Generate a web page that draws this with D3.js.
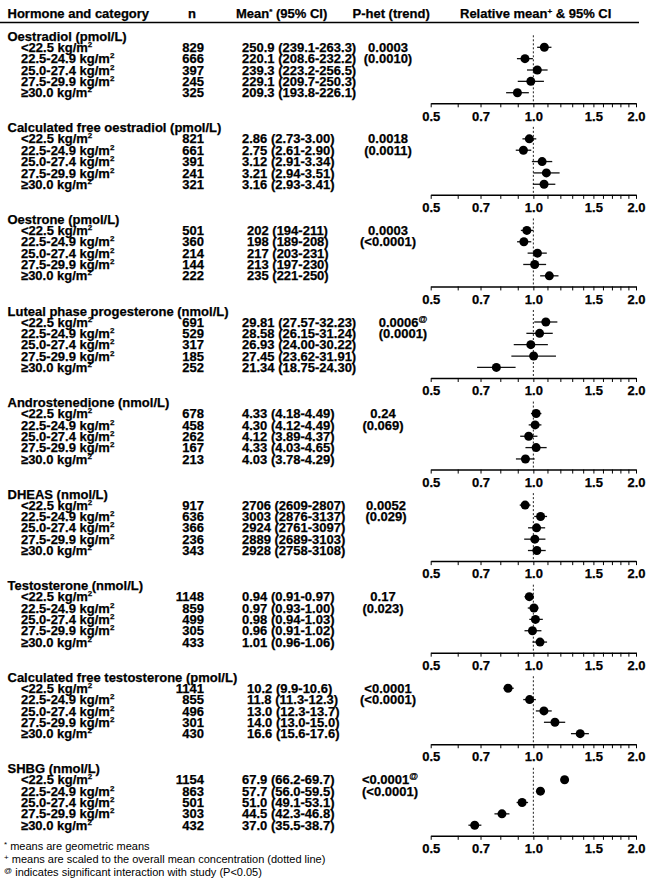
<!DOCTYPE html>
<html>
<head>
<meta charset="utf-8">
<script src="https://cdn.jsdelivr.net/npm/d3@7.9.0/dist/d3.min.js"></script>
<style>
  html, body { margin: 0; padding: 0; background: #fff; }
  svg { display: block; font-family: "Liberation Sans", Arial, sans-serif; }
  .b { font-weight: bold; font-size: 13px; fill: #000; stroke: #000; stroke-width: 0.25px; }
  .foot { font-size: 11px; fill: #000; }
</style>
</head>
<body>
<div id="chart"></div>
<script>
// table data
const hormones = [
  'Oestradiol (pmol/L)',
  'Calculated free oestradiol (pmol/L)',
  'Oestrone (pmol/L)',
  'Luteal phase progesterone (nmol/L)',
  'Androstenedione (nmol/L)',
  'DHEAS (nmol/L)',
  'Testosterone (nmol/L)',
  'Calculated free testosterone (pmol/L)',
  'SHBG (nmol/L)'
];
const categories = ['<22.5 kg/m', '22.5-24.9 kg/m', '25.0-27.4 kg/m', '27.5-29.9 kg/m', '\u226530.0 kg/m'];

const nValues = [
  [829, 666, 397, 245, 325],
  [821, 661, 391, 241, 321],
  [501, 360, 214, 144, 222],
  [691, 529, 317, 185, 252],
  [678, 458, 262, 167, 213],
  [917, 636, 366, 236, 343],
  [1148, 859, 499, 305, 433],
  [1141, 855, 496, 301, 430],
  [1154, 863, 501, 303, 432]
];
const meanLabels = [
  ['250.9 (239.1-263.3)', '220.1 (208.6-232.2)', '239.3 (223.2-256.5)', '229.1 (209.7-250.3)', '209.3 (193.8-226.1)'],
  ['2.86 (2.73-3.00)', '2.75 (2.61-2.90)', '3.12 (2.91-3.34)', '3.21 (2.94-3.51)', '3.16 (2.93-3.41)'],
  ['202 (194-211)', '198 (189-208)', '217 (203-231)', '213 (197-230)', '235 (221-250)'],
  ['29.81 (27.57-32.23)', '28.58 (26.15-31.24)', '26.93 (24.00-30.22)', '27.45 (23.62-31.91)', '21.34 (18.75-24.30)'],
  ['4.33 (4.18-4.49)', '4.30 (4.12-4.49)', '4.12 (3.89-4.37)', '4.33 (4.03-4.65)', '4.03 (3.78-4.29)'],
  ['2706 (2609-2807)', '3003 (2876-3137)', '2924 (2761-3097)', '2889 (2689-3103)', '2928 (2758-3108)'],
  ['0.94 (0.91-0.97)', '0.97 (0.93-1.00)', '0.98 (0.94-1.03)', '0.96 (0.91-1.02)', '1.01 (0.96-1.06)'],
  ['10.2 (9.9-10.6)', '11.8 (11.3-12.3)', '13.0 (12.3-13.7)', '14.0 (13.0-15.0)', '16.6 (15.6-17.6)'],
  ['67.9 (66.2-69.7)', '57.7 (56.0-59.5)', '51.0 (49.1-53.1)', '44.5 (42.3-46.8)', '37.0 (35.5-38.7)']
];
const pHet = ['0.0003', '0.0018', '0.0003', '0.0006', '0.24', '0.0052', '0.17', '<0.0001', '<0.0001'];
const pTrend = ['(0.0010)', '(0.0011)', '(<0.0001)', '(0.0001)', '(0.069)', '(0.029)', '(0.023)', '(<0.0001)', '(<0.0001)'];
const interaction = [false, false, false, true, false, false, false, false, true];

// relative means and 95% CI
const relMean = [
  [1.077, 0.945, 1.027, 0.983, 0.898],
  [0.973, 0.935, 1.061, 1.092, 1.075],
  [0.957, 0.938, 1.028, 1.009, 1.114],
  [1.088, 1.043, 0.983, 1.002, 0.779],
  [1.019, 1.012, 0.969, 1.019, 0.948],
  [0.946, 1.050, 1.022, 1.010, 1.024],
  [0.973, 1.004, 1.014, 0.994, 1.046],
  [0.843, 0.975, 1.074, 1.157, 1.372],
  [1.235, 1.049, 0.927, 0.809, 0.673]
];
const relLo = [
  [1.026, 0.895, 0.958, 0.900, 0.832],
  [0.929, 0.888, 0.990, 1.000, 0.997],
  [0.919, 0.896, 0.962, 0.934, 1.047],
  [1.006, 0.954, 0.876, 0.862, 0.684],
  [0.984, 0.969, 0.915, 0.948, 0.889],
  [0.912, 1.006, 0.965, 0.940, 0.964],
  [0.942, 0.963, 0.973, 0.942, 0.994],
  [0.818, 0.934, 1.017, 1.074, 1.289],
  [1.204, 1.018, 0.893, 0.769, 0.645]
];
const relHi = [
  [1.130, 0.997, 1.101, 1.074, 0.970],
  [1.020, 0.986, 1.136, 1.194, 1.160],
  [1.000, 0.986, 1.095, 1.090, 1.185],
  [1.176, 1.140, 1.103, 1.165, 0.887],
  [1.056, 1.056, 1.028, 1.094, 1.009],
  [0.981, 1.097, 1.083, 1.085, 1.087],
  [1.004, 1.035, 1.066, 1.056, 1.097],
  [0.876, 1.017, 1.132, 1.240, 1.455],
  [1.267, 1.082, 0.965, 0.851, 0.704]
];

const tickValues = [0.5, 0.6, 0.7, 0.8, 0.9, 1.0, 1.1, 1.2, 1.3, 1.4, 1.5, 1.6, 1.7, 1.8, 1.9, 2.0];
const tickLabels = [0.5, 0.7, 1.0, 1.5, 2.0];

const width = 651;
const height = 886;

const svg = d3.select('#chart')
  .append('svg')
  .attr('width', width)
  .attr('height', height);

const x = d3.scaleLog().domain([0.5, 2.0]).range([430.7, 636]);

// axis baseline of each panel
const panelY = d3.scaleLinear().domain([0, 8]).range([103.3, 835.8]);
// rows within a panel, relative to the axis
const rowY = d3.scaleLinear().domain([0, 4]).range([-56, -10.6]);

const colName = 7.5, colCat = 21, colN = 204, colMean = 242, colP = 388;
// small per-panel horizontal nudges of the columns, as laid out in the original
const pNudge = [0, 0, 0, 15, -5, -2, -5, 0, 2];
const meanNudge = [0, 0, 5, 0, 0, 0, 0, 5, 0];

// header
const header = svg.append('g');
header.append('text').attr('class', 'b').attr('x', colName).attr('y', 17.5).text('Hormone and category');
header.append('text').attr('class', 'b').attr('x', 188).attr('y', 17.5).text('n');
const hm = header.append('text').attr('class', 'b').attr('x', 236).attr('y', 17.5);
hm.append('tspan').text('Mean');
hm.append('tspan').attr('font-size', 8).attr('dy', -4).text('*');
hm.append('tspan').attr('dy', 4).text(' (95% CI)');
header.append('text').attr('class', 'b').attr('x', 352.5).attr('y', 17.5).text('P-het (trend)');
const hr = header.append('text').attr('class', 'b').attr('x', 460).attr('y', 17.5);
hr.append('tspan').text('Relative mean');
hr.append('tspan').attr('font-size', 8).attr('dy', -4).text('+');
hr.append('tspan').attr('dy', 4).text(' & 95% CI');

svg.append('line')
  .attr('x1', 0).attr('x2', 639)
  .attr('y1', 22.5).attr('y2', 22.5)
  .attr('stroke', '#000').attr('stroke-width', 1.5);

hormones.forEach((name, i) => {
  const y0 = panelY(i);
  const g = svg.append('g').attr('class', 'panel');

  // title
  g.append('text').attr('class', 'b')
    .attr('x', colName).attr('y', y0 - 67 + 4.6)
    .text(name);

  const rows = categories.map((c, j) => ({
    cat: c,
    n: nValues[i][j],
    mean: meanLabels[i][j],
    rel: relMean[i][j],
    lo: relLo[i][j],
    hi: relHi[i][j],
    y: y0 + rowY(j)
  }));

  const cat = g.selectAll('text.cat')
    .data(rows)
    .join('text')
    .attr('class', 'b cat')
    .attr('x', colCat)
    .attr('y', d => d.y + 4.6);
  cat.append('tspan').text(d => d.cat);
  cat.append('tspan').attr('font-size', 8).attr('dy', -5).text('2');

  g.selectAll('text.n')
    .data(rows)
    .join('text')
    .attr('class', 'b n')
    .attr('x', colN)
    .attr('y', d => d.y + 4.6)
    .attr('text-anchor', 'end')
    .text(d => d.n);

  g.selectAll('text.mean')
    .data(rows)
    .join('text')
    .attr('class', 'b mean')
    .attr('x', colMean + meanNudge[i])
    .attr('y', d => d.y + 4.6)
    .text(d => d.mean);

  // p values
  const px = colP + pNudge[i];
  const p1 = g.append('text').attr('class', 'b')
    .attr('x', px).attr('y', rows[0].y + 4.6)
    .attr('text-anchor', 'middle');
  p1.append('tspan').text(pHet[i]);
  if (interaction[i]) {
    p1.append('tspan').attr('font-size', 9).attr('dy', -5).text('@');
  }
  g.append('text').attr('class', 'b')
    .attr('x', px).attr('y', rows[1].y + 4.6)
    .attr('text-anchor', 'middle')
    .text(pTrend[i]);

  // reference line at 1.0
  g.append('line')
    .attr('x1', x(1)).attr('x2', x(1))
    .attr('y1', y0 - 68).attr('y2', y0)
    .attr('stroke', '#222')
    .attr('stroke-width', 1)
    .attr('stroke-dasharray', '2,2');

  // CI bars
  g.selectAll('line.ci')
    .data(rows)
    .join('line')
    .attr('class', 'ci')
    .attr('x1', d => x(d.lo))
    .attr('x2', d => x(d.hi))
    .attr('y1', d => d.y)
    .attr('y2', d => d.y)
    .attr('stroke', '#111')
    .attr('stroke-width', 1.3);

  g.selectAll('circle')
    .data(rows)
    .join('circle')
    .attr('cx', d => x(d.rel))
    .attr('cy', d => d.y)
    .attr('r', 4.5)
    .attr('fill', '#000');

  // axis
  const axis = g.append('g')
    .attr('transform', `translate(0, ${y0})`)
    .call(d3.axisBottom(x)
      .tickValues(tickValues)
      .tickSize(4)
      .tickSizeOuter(0)
      .tickFormat(d => tickLabels.some(t => Math.abs(t - d) < 1e-9) ? d.toFixed(1) : ''));
  axis.select('.domain').attr('stroke', '#000').attr('stroke-width', 1.5);
  axis.selectAll('.tick line').attr('stroke', '#000').attr('stroke-width', 1);
  axis.selectAll('.tick text')
    .attr('class', 'b')
    .attr('font-family', null)
    .attr('font-size', null)
    .attr('y', 8);
});

// footnotes
const foot = svg.append('g').attr('class', 'foot');
const f1 = foot.append('text').attr('x', 4).attr('y', 849.5);
f1.append('tspan').attr('font-size', 8).attr('dy', -3).text('*');
f1.append('tspan').attr('dy', 3).text(' means are geometric means');
const f2 = foot.append('text').attr('x', 4).attr('y', 862.5);
f2.append('tspan').attr('font-size', 8).attr('dy', -3).text('+');
f2.append('tspan').attr('dy', 3).text(' means are scaled to the overall mean concentration (dotted line)');
const f3 = foot.append('text').attr('x', 4).attr('y', 875.5);
f3.append('tspan').attr('font-size', 8).attr('dy', -3).text('@');
f3.append('tspan').attr('dy', 3).text(' indicates significant interaction with study (P<0.05)');
</script>
</body>
</html>
